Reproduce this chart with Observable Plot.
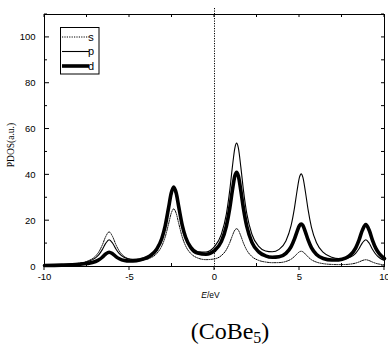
<!DOCTYPE html>
<html><head><meta charset="utf-8">
<script src="https://cdn.jsdelivr.net/npm/d3@7"></script>
<script src="https://cdn.jsdelivr.net/npm/@observablehq/plot@0.6"></script>
<style>body{margin:0;background:#fff}</style>
</head><body><div id="chart"></div>
<script>
// Energy grid (eV)
const energy = [-10,-9,-8,-7.5,-7,-6.8,-6.6,-6.4,-6.2,-6.0,-5.8,-5.6,-5.3,-5.0,-4.6,-4.2,-3.8,-3.4,-3.1,-2.9,-2.7,-2.55,-2.4,-2.25,-2.1,-1.9,-1.7,-1.4,-1.0,-0.5,0,0.4,0.7,0.9,1.05,1.2,1.3,1.4,1.55,1.7,1.9,2.2,2.6,3.0,3.4,3.8,4.2,4.5,4.7,4.85,5.0,5.1,5.2,5.35,5.5,5.7,6.0,6.4,6.9,7.3,7.7,8.0,8.3,8.5,8.7,8.9,9.1,9.3,9.5,9.7,10];
// PDOS values
const sPDOS = [.49,.74,1.39,2.26,4.53,6.43,9.36,13.06,15.1,13.14,9.56,6.73,4.33,3.24,2.72,2.86,3.65,5.65,8.97,12.91,18.66,23.13,25.16,23.14,18.67,12.95,9.02,5.72,3.75,2.99,3.33,4.75,7.37,10.46,13.41,15.93,16.51,15.9,13.32,10.3,7.12,4.36,2.67,1.96,1.67,1.71,2.2,3.17,4.34,5.48,6.43,6.65,6.42,5.4,4.22,2.97,1.91,1.24,.9,.83,.88,1.06,1.48,1.98,2.61,2.95,2.57,1.91,1.38,1.03,.72];
const pPDOS = [.57,.80,1.34,2.02,3.75,5.18,7.37,10.11,11.66,10.26,7.66,5.63,3.95,3.26,3.11,3.58,4.81,7.57,12.01,17.23,24.81,30.69,33.4,30.82,25.09,17.71,12.68,8.59,6.45,6.36,8.67,14.0,22.99,33.42,43.36,51.83,53.84,51.85,43.39,33.46,23.04,14.07,8.79,6.78,6.41,7.49,11.16,17.71,25.39,32.73,38.98,40.43,38.91,32.53,25.05,17.19,10.36,6.17,4.05,3.42,3.49,4.12,5.76,7.75,10.32,11.69,10.15,7.41,5.23,3.81,2.57];
const dPDOS = [.45,.59,.93,1.29,2.18,2.92,4.04,5.45,6.25,5.59,4.33,3.37,2.62,2.41,2.58,3.24,4.59,7.54,12.22,17.72,25.69,31.85,34.71,31.96,25.9,18.09,12.75,8.35,5.9,5.38,6.93,10.86,17.68,25.59,33.15,39.6,41.11,39.57,33.08,25.48,17.49,10.55,6.39,4.66,4.05,4.27,5.74,8.56,11.93,15.15,17.91,18.54,17.86,15.03,11.72,8.26,5.27,3.51,2.81,2.9,3.65,5.07,8.04,11.5,15.88,18.26,15.8,11.33,7.78,5.48,3.51];
const seriesNames = ["s","p","d"];
const xMajor = [-10,-5,0,5,10];
const xMinor = [-7.5,-2.5,2.5,7.5];
const yMajor = [0,20,40,60,80,100];
const yMinor = [10,30,50,70,90,110];

const toRows = vals => energy.map((E,i) => ({E, v: vals[i]}));
const sRows = toRows(sPDOS), pRows = toRows(pPDOS), dRows = toRows(dPDOS);

const chart = Plot.plot({
  width: 388, height: 352,
  marginLeft: 44, marginRight: 4, marginTop: 14, marginBottom: 86,
  style: {fontFamily: "'Liberation Sans', Arial, sans-serif", fontSize: "9.5px", background: "#fff", color: "#000"},
  x: {domain: [-10, 10], ticks: xMajor, tickSize: 0, tickPadding: 7, tickFormat: d => String(d), label: null},
  y: {domain: [0, 110], ticks: yMajor, tickSize: 0, tickPadding: 9, tickFormat: d => String(d), label: null},
  marks: [
    Plot.ruleX([0], {stroke: "#000", strokeWidth: 1, strokeDasharray: "1.2,1.3", insetTop: -6, insetBottom: -4}),
    Plot.line(dRows, {x: "E", y: "v", stroke: "#000", strokeWidth: 3.6, curve: "monotone-x", strokeLinejoin: "round"}),
    Plot.line(pRows, {x: "E", y: "v", stroke: "#000", strokeWidth: 1.1, curve: "monotone-x"}),
    Plot.line(sRows, {x: "E", y: "v", stroke: "#000", strokeWidth: 1, strokeDasharray: "1.2,1.2", curve: "monotone-x"}),
    Plot.frame({stroke: "#000", strokeWidth: 1})
  ]
});
document.getElementById("chart").append(chart);

const svg = d3.select(chart);
const xs = chart.scale("x"), ys = chart.scale("y");
const [xL, xR] = xs.range, [yB, yT] = ys.range;
const g = svg.append("g").attr("stroke", "#000").attr("stroke-width", 1);
// left & right ticks (inward)
yMajor.forEach(v => { const y = ys.apply(v);
  g.append("line").attr("x1", xL).attr("x2", xL + 5).attr("y1", y).attr("y2", y);
  g.append("line").attr("x1", xR).attr("x2", xR - 3).attr("y1", y).attr("y2", y); });
yMinor.forEach(v => { const y = ys.apply(v);
  g.append("line").attr("x1", xL).attr("x2", xL + 3).attr("y1", y).attr("y2", y);
  g.append("line").attr("x1", xR).attr("x2", xR - 3).attr("y1", y).attr("y2", y); });
// bottom & top ticks
xMajor.forEach(v => { const x = xs.apply(v);
  g.append("line").attr("x1", x).attr("x2", x).attr("y1", yB).attr("y2", yB + 4);
  g.append("line").attr("x1", x).attr("x2", x).attr("y1", yT).attr("y2", yT + 3); });
xMinor.forEach(v => { const x = xs.apply(v);
  g.append("line").attr("x1", x).attr("x2", x).attr("y1", yB).attr("y2", yB - 3);
  g.append("line").attr("x1", x).attr("x2", x).attr("y1", yT).attr("y2", yT + 3); });

// legend
const lg = svg.append("g");
lg.append("rect").attr("x", 60.5).attr("y", 27.5).attr("width", 38.5).attr("height", 46.5)
  .attr("fill", "#fff").attr("stroke", "#000").attr("stroke-width", 1);
const legendStyles = [
  {w: 1, dash: "1.2,1.2"}, {w: 1.1, dash: null}, {w: 3.6, dash: null}
];
seriesNames.forEach((name, i) => {
  const y = 37 + i * 14.5;
  const ln = lg.append("line").attr("x1", 62).attr("x2", 89).attr("y1", y).attr("y2", y)
    .attr("stroke", "#000").attr("stroke-width", legendStyles[i].w);
  if (legendStyles[i].dash) ln.attr("stroke-dasharray", legendStyles[i].dash);
  lg.append("text").attr("x", 91).attr("y", y).attr("dy", "0.35em")
    .attr("font-family", "'Liberation Sans', Arial, sans-serif").attr("font-size", 11).text(name);
});

// axis labels
svg.append("text").attr("transform", "translate(11,145) rotate(-90)")
  .attr("text-anchor", "middle").attr("dy", "0.35em")
  .attr("font-family", "'Liberation Serif', 'Times New Roman', serif").attr("font-size", 9.5)
  .text("PDOS(a.u.)");
const xl = svg.append("text").attr("x", 210.5).attr("y", 298).attr("text-anchor", "middle")
  .attr("font-family", "'Liberation Sans', Arial, sans-serif").attr("font-size", 8.5);
xl.append("tspan").attr("font-style", "italic").text("E");
xl.append("tspan").text("/eV");

// caption
const cap = svg.append("text").attr("x", 230).attr("y", 339).attr("text-anchor", "middle")
  .attr("font-family", "'Liberation Serif', 'Times New Roman', serif").attr("font-size", 24);
cap.append("tspan").text("(CoBe");
cap.append("tspan").attr("font-size", 16).attr("dy", 4).text("5");
cap.append("tspan").attr("dy", -4).text(")");
</script></body></html>
